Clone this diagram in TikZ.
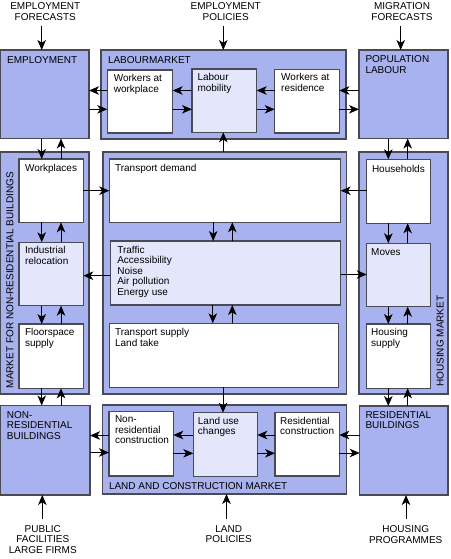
\documentclass[tikz,border=0pt]{standalone}
\usepackage{fontspec}
\setmainfont{Liberation Sans}
\usetikzlibrary{arrows.meta}
\definecolor{outerblue}{HTML}{A8B2EE}
\definecolor{innerlight}{HTML}{E4E7FB}
\definecolor{edgegray}{HTML}{4A4A55}
\newcommand\mkbox[6]{\node[#1, minimum width=#4-#2, minimum height=#5-#3] (#6) at (#2,-#3) {};}
\begin{document}
\begin{tikzpicture}[x=1pt,y=1pt,
  obox/.style={draw=edgegray, line width=1.3pt, fill=outerblue, anchor=north west, inner sep=0pt, outer sep=0pt},
  wbox/.style={draw=edgegray, line width=1.1pt, fill=white, anchor=north west, inner sep=0pt, outer sep=0pt},
  lbox/.style={wbox, fill=innerlight},
  txt/.style={font=\fontsize{10}{10.5}\selectfont, inner sep=0pt, outer sep=0pt, align=left, anchor=north west, execute at begin node={\rule{0pt}{8pt}}},
  rtxt/.style={font=\fontsize{10}{10.5}\selectfont, inner sep=0pt, outer sep=0pt, anchor=base west, rotate=90},
  ctxt/.style={txt, align=center, anchor=north},
  arr/.style={-{Stealth[length=10pt,width=8.5pt,inset=2.8pt]}, line width=0.9pt, black}]
\useasboundingbox (0,0) rectangle (450,-559);
% outer boxes
\mkbox{obox}{0.7}{50}{89}{138.5}{emp}
\mkbox{obox}{101}{50}{346}{139}{lmk}
\mkbox{obox}{359}{50}{448}{138.5}{pop}
\mkbox{obox}{0.7}{152}{89}{394}{nrm}
\mkbox{obox}{103}{152}{346.5}{394}{ctr}
\mkbox{obox}{359}{152}{448}{394}{hm}
\mkbox{obox}{0.7}{405.5}{90}{495}{nrb}
\mkbox{obox}{102.7}{405}{346.5}{494}{lcm}
\mkbox{obox}{359.7}{406}{448}{495}{rb}
% inner boxes
\mkbox{wbox}{107.3}{70}{172.7}{133}{wwl}
\mkbox{lbox}{192}{69}{256.7}{132.3}{lmob}
\mkbox{wbox}{274.7}{69.3}{339.3}{133}{war}
\mkbox{wbox}{19}{159}{83.3}{222.3}{wp}
\mkbox{lbox}{19}{242.3}{83.3}{305.7}{ir}
\mkbox{wbox}{19}{324}{83.3}{388.3}{fs}
\mkbox{wbox}{109.3}{159}{340.7}{222.3}{td}
\mkbox{lbox}{110.3}{241}{340.7}{305}{trf}
\mkbox{wbox}{109.3}{323.3}{338.3}{387.3}{ts}
\mkbox{wbox}{366.7}{159.3}{430.7}{223.3}{hh}
\mkbox{lbox}{366.7}{243.3}{430.7}{306.7}{mv}
\mkbox{wbox}{366.7}{324}{430.7}{388.3}{hs}
\mkbox{wbox}{109}{411.7}{173.3}{476}{nrc}
\mkbox{lbox}{193.3}{412.7}{257.3}{476.7}{luc}
\mkbox{wbox}{275}{412.3}{339.3}{476}{rc}
% outer labels (north = first baseline + 8)
\node[txt] (emp-t) at ([shift={(6.5,-6)}]emp.north west) {EMPLOYMENT};
\node[txt] (lmk-t) at ([shift={(7,-6)}]lmk.north west) {LABOURMARKET};
\node[txt] (pop-t) at ([shift={(6.5,-6)}]pop.north west) {POPULATION\\LABOUR};
\node[txt] (nrb-t) at ([shift={(6.2,-5.8)}]nrb.north west) {NON-\\RESIDENTIAL\\BUILDINGS};
\node[txt] (rb-t) at ([shift={(5.8,-5.2)}]rb.north west) {RESIDENTIAL\\BUILDINGS};
\node[txt] (lcm-t) at ([shift={(6.3,13)}]lcm.south west) {LAND AND CONSTRUCTION MARKET};
\node[rtxt] (nrm-t) at (13.3,-388.3) {MARKET FOR NON-RESIDENTIAL BUILDINGS};
\node[rtxt] (hm-t) at (443.5,-386.7) {HOUSING MARKET};
% inner labels
\node[txt] (wwl-t) at ([shift={(6.5,-4.4)}]wwl.north west) {Workers at\\workplace};
\node[txt] (lmob-t) at ([shift={(5.5,-4.7)}]lmob.north west) {Labour\\mobility};
\node[txt] (war-t) at ([shift={(6.5,-4.4)}]war.north west) {Workers at\\residence};
\node[txt] (wp-t) at ([shift={(6,-4.2)}]wp.north west) {Workplaces};
\node[txt] (ir-t) at ([shift={(6,-4.2)}]ir.north west) {Industrial\\relocation};
\node[txt] (fs-t) at ([shift={(6,-4.7)}]fs.north west) {Floorspace\\supply};
\node[txt] (td-t) at ([shift={(5.8,-4.7)}]td.north west) {Transport demand};
\node[txt] (trf-t) at ([shift={(7,-5)}]trf.north west) {Traffic\\Accessibility\\Noise\\Air pollution\\Energy use};
\node[txt] (ts-t) at ([shift={(5.8,-5.2)}]ts.north west) {Transport supply\\Land take};
\node[txt] (hh-t) at ([shift={(5.3,-4.8)}]hh.north west) {Households};
\node[txt] (mv-t) at ([shift={(4.5,-3.8)}]mv.north west) {Moves};
\node[txt] (hs-t) at ([shift={(4.5,-4.7)}]hs.north west) {Housing\\supply};
\node[txt] (nrc-t) at ([shift={(6,-4.4)}]nrc.north west) {Non-\\residential\\construction};
\node[txt] (luc-t) at ([shift={(4.6,-4.4)}]luc.north west) {Land use\\changes};
\node[txt] (rc-t) at ([shift={(5.2,-4.6)}]rc.north west) {Residential\\construction};
% external labels
\node[ctxt] (efl) at (45.3,-2.7) {EMPLOYMENT\\FORECASTS};
\node[ctxt] (epl) at (225.7,-2.7) {EMPLOYMENT\\POLICIES};
\node[ctxt] (mfl) at (402,-2.7) {MIGRATION\\FORECASTS};
\node[ctxt] (pfl) at (42.8,-525.3) {PUBLIC\\FACILITIES\\LARGE FIRMS};
\node[ctxt] (lpl) at (228.7,-525.5) {LAND\\POLICIES};
\node[ctxt] (hpl) at (405.7,-526) {HOUSING\\PROGRAMMES};
\coordinate (efa) at (41.7,-26);
\coordinate (epa) at (223.3,-26.5);
\coordinate (mfa) at (400.7,-26);
\coordinate (pfa) at (42.3,-519);
\coordinate (lpa) at (226.5,-519);
\coordinate (hpa) at (406,-519);
% external arrows
\draw[arr] (efa) -- (emp.north -| efa);
\draw[arr] (epa) -- (lmk.north -| epa);
\draw[arr] (mfa) -- (pop.north -| mfa);
\draw[arr] (pfa) -- (nrb.south -| pfa);
\draw[arr] (lpa) -- (lcm.south -| lpa);
\draw[arr] (hpa) -- (rb.south -| hpa);
% labour market row
\draw[arr] (wwl.west |- 0,-90.5) -- (emp.east |- 0,-90.5);
\draw[arr] (emp.east |- 0,-109.3) -- (wwl.west |- 0,-109.3);
\draw[arr] (lmob.west |- 0,-90.5) -- (wwl.east |- 0,-90.5);
\draw[arr] (wwl.east |- 0,-109.3) -- (lmob.west |- 0,-109.3);
\draw[arr] (war.west |- 0,-90.5) -- (lmob.east |- 0,-90.5);
\draw[arr] (lmob.east |- 0,-109.3) -- (war.west |- 0,-109.3);
\draw[arr] (pop.west |- 0,-90.5) -- (war.east |- 0,-90.5);
\draw[arr] (war.east |- 0,-109.3) -- (pop.west |- 0,-109.3);
\draw[arr] (ctr.north -| 223.3,0) -- (lmob.south -| 223.3,0);
% left column
\draw[arr] (emp.south -| 41.7,0) -- (wp.north -| 41.7,0);
\draw[arr] (wp.north -| 61,0) -- (emp.south -| 61,0);
\draw[arr] (wp.south -| 41.7,0) -- (ir.north -| 41.7,0);
\draw[arr] (ir.north -| 61,0) -- (wp.south -| 61,0);
\draw[arr] (ir.south -| 41.7,0) -- (fs.north -| 41.7,0);
\draw[arr] (fs.north -| 61,0) -- (ir.south -| 61,0);
\draw[arr] (fs.south -| 41.7,0) -- (nrb.north -| 41.7,0);
\draw[arr] (nrb.north -| 61,0) -- (fs.south -| 61,0);
% right column
\draw[arr] (pop.south -| 388.3,0) -- (hh.north -| 388.3,0);
\draw[arr] (hh.north -| 407.7,0) -- (pop.south -| 407.7,0);
\draw[arr] (hh.south -| 388.3,0) -- (mv.north -| 388.3,0);
\draw[arr] (mv.north -| 407.7,0) -- (hh.south -| 407.7,0);
\draw[arr] (mv.south -| 388.3,0) -- (hs.north -| 388.3,0);
\draw[arr] (hs.north -| 407.7,0) -- (mv.south -| 407.7,0);
\draw[arr] (hs.south -| 388.3,0) -- (rb.north -| 388.3,0);
\draw[arr] (rb.north -| 407.7,0) -- (hs.south -| 407.7,0);
% centre column
\draw[arr] (td.south -| 213.2,0) -- (trf.north -| 213.2,0);
\draw[arr] (trf.north -| 232.3,0) -- (td.south -| 232.3,0);
\draw[arr] (trf.south -| 212.8,0) -- (ts.north -| 212.8,0);
\draw[arr] (ts.north -| 232.3,0) -- (trf.south -| 232.3,0);
\draw[arr] (ts.south -| 223,0) -- (luc.north -| 223,0);
% cross links
\draw[arr] (wp.east |- 0,-190.7) -- (td.west |- 0,-190.7);
\draw[arr] (hh.west |- 0,-190.7) -- (td.east |- 0,-190.7);
\draw[arr] (trf.west |- 0,-275.7) -- (ir.east |- 0,-275.7);
\draw[arr] (trf.east |- 0,-274.5) -- (mv.west |- 0,-274.5);
% land and construction row
\draw[arr] (nrc.west |- 0,-435.5) -- (nrb.east |- 0,-435.5);
\draw[arr] (nrb.east |- 0,-452.5) -- (nrc.west |- 0,-452.5);
\draw[arr] (luc.west |- 0,-435) -- (nrc.east |- 0,-435);
\draw[arr] (nrc.east |- 0,-453.3) -- (luc.west |- 0,-453.3);
\draw[arr] (rc.west |- 0,-435) -- (luc.east |- 0,-435);
\draw[arr] (luc.east |- 0,-453.3) -- (rc.west |- 0,-453.3);
\draw[arr] (rb.west |- 0,-435) -- (rc.east |- 0,-435);
\draw[arr] (rc.east |- 0,-453) -- (rb.west |- 0,-453);
\end{tikzpicture}
\end{document}
